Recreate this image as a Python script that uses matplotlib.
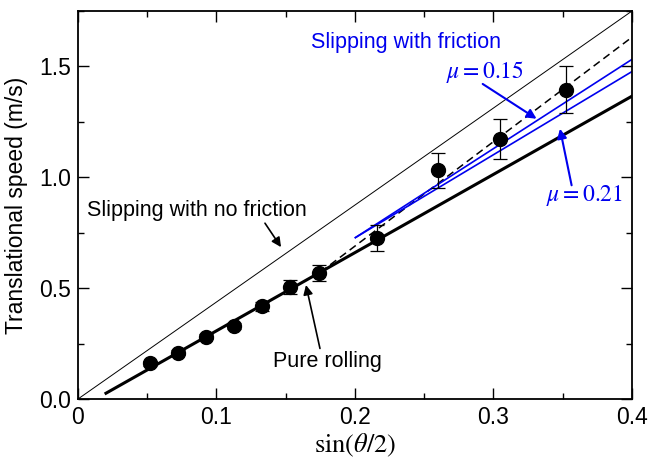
import matplotlib.pyplot as plt
from matplotlib.ticker import MultipleLocator, FuncFormatter

plt.rcParams['font.family'] = ['Liberation Sans', 'DejaVu Sans']
plt.rcParams['mathtext.fontset'] = 'stix'

# measured points
sx = [0.052, 0.0724, 0.0924, 0.1126, 0.133, 0.153, 0.174, 0.216, 0.2597, 0.3047, 0.3523]
speed = [0.161, 0.209, 0.281, 0.329, 0.419, 0.505, 0.569, 0.727, 1.031, 1.171, 1.396]
err = [0.01, 0.01, 0.012, 0.015, 0.02, 0.03, 0.035, 0.06, 0.08, 0.09, 0.105]

# model lines (end points)
nofric_x = [0.0, 0.4]
nofric_y = [0.0, 1.75]
roll_x = [0.0202, 0.4]
roll_y = [0.026, 1.366]
dash_x = [0.175, 0.4]
dash_y = [0.572, 1.632]
mu15_x = [0.2003, 0.4]
mu15_y = [0.728, 1.532]
mu21_x = [0.2003, 0.4]
mu21_y = [0.728, 1.477]

fig = plt.figure(figsize=(6.5, 4.61), dpi=100)
ax = fig.add_axes([0.12, 0.1345, 0.8523, 0.8416])

ax.plot(nofric_x, nofric_y, color='black', lw=0.7)
ax.plot(roll_x, roll_y, color='black', lw=2.2)
ax.plot(dash_x, dash_y, color='black', lw=1.1, ls=(0, (5, 3)))
ax.plot(mu15_x, mu15_y, color='#0000ee', lw=1.2)
ax.plot(mu21_x, mu21_y, color='#0000ee', lw=1.2)
ax.errorbar(sx, speed, yerr=err, fmt='o', color='black', ms=10, capsize=5,
            elinewidth=0.9, capthick=0.9, zorder=5)

blue = '#0000ee'
ax.text(0.2368, 1.608, 'Slipping with friction', color=blue, fontsize=15.5,
        ha='center', va='center')
ax.text(0.0859, 0.851, 'Slipping with no friction', fontsize=15.5,
        ha='center', va='center')
ax.text(0.1798, 0.167, 'Pure rolling', fontsize=15.5, ha='center', va='center')
ax.text(0.2938, 1.477, r'$\mu = 0.15$', color=blue, fontsize=17,
        ha='center', va='center')
ax.text(0.366, 0.919, r'$\mu = 0.21$', color=blue, fontsize=17,
        ha='center', va='center')

arr = dict(arrowstyle='-|>', lw=1.2, mutation_scale=14, shrinkA=0, shrinkB=0)
ax.annotate('', xy=(0.1466, 0.685), xytext=(0.135, 0.793),
            arrowprops=dict(arr, color='black'))
ax.annotate('', xy=(0.1646, 0.514), xytext=(0.1747, 0.228),
            arrowprops=dict(arr, color='black'))
ax.annotate('', xy=(0.3311, 1.264), xytext=(0.2922, 1.421),
            arrowprops=dict(arr, color=blue, lw=1.5))
ax.annotate('', xy=(0.348, 1.219), xytext=(0.3564, 0.964),
            arrowprops=dict(arr, color=blue, lw=1.5))

ax.set_xlim(0, 0.4)
ax.set_ylim(0, 1.75)
ax.xaxis.set_major_locator(MultipleLocator(0.1))
ax.xaxis.set_minor_locator(MultipleLocator(0.05))
ax.yaxis.set_major_locator(MultipleLocator(0.5))
ax.yaxis.set_minor_locator(MultipleLocator(0.25))
ax.xaxis.set_major_formatter(FuncFormatter(lambda v, p: '0' if v == 0 else '%.1f' % v))
ax.yaxis.set_major_formatter(FuncFormatter(lambda v, p: '%.1f' % v))
ax.tick_params(which='both', direction='in', top=True, right=True, width=1)
ax.tick_params(which='major', length=8, labelsize=16.5, pad=5)
ax.tick_params(which='minor', length=4)
for s in ax.spines.values():
    s.set_linewidth(1.3)

ax.set_xlabel(r'$\sin(\theta/2)$', fontsize=19, labelpad=2)
ax.set_ylabel('Translational speed (m/s)', fontsize=16.5, labelpad=8)

fig.savefig('out.png', dpi=100)
